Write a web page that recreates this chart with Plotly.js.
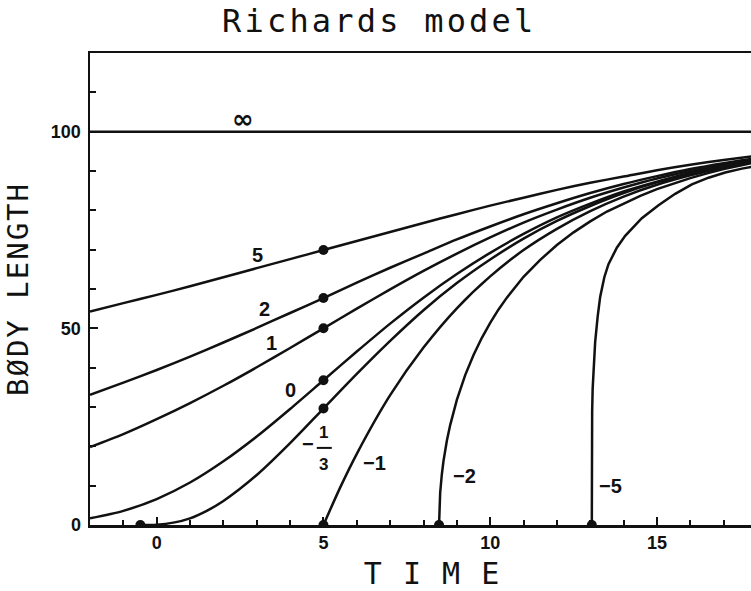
<!DOCTYPE html>
<html>
<head>
<meta charset="utf-8">
<script src="https://cdn.plot.ly/plotly-3.0.1.min.js"></script>
<style>
html,body{margin:0;padding:0;background:#fff;}
#chart{width:751px;height:591px;}
.gtitle{letter-spacing:3.2px;}
.xtitle{letter-spacing:1.5px;}
.ytitle{letter-spacing:2px;}
</style>
</head>
<body>
<div id="chart"></div>
<script>
// Curve labels (Richards shape parameter)
const curveLabels = ["∞", "5", "2", "1", "0", "−1/3", "−1", "−2", "−5"];

// Time grid for the smooth curves
const tFull = [-2,-1,0,1,2,3,4,5,6,7,8,9,10,11,12,13,14,15,16,17,18];

// Body length values
const yInf   = [100,100,100,100,100,100,100,100,100,100,100,100,100,100,100,100,100,100,100,100,100];
const yP5    = [54.3,56.4,58.5,60.7,63.0,65.3,67.6,69.9,72.2,74.5,76.8,79.0,81.2,83.2,85.2,87.0,88.6,90.2,91.6,92.8,93.9];
const yP2    = [33.1,36.2,39.4,42.8,46.4,50.1,53.9,57.7,61.6,65.4,69.0,72.6,75.9,79.0,81.8,84.4,86.7,88.7,90.5,92.0,93.3];
const yP1    = [19.8,23.1,26.9,31.0,35.4,40.1,45.0,50.0,55.0,59.9,64.6,69.0,73.1,76.9,80.2,83.2,85.8,88.1,90.0,91.7,93.1];
const yP0    = [1.7,3.6,6.6,10.8,16.2,22.5,29.5,36.8,44.1,51.2,57.8,63.8,69.2,74.0,78.2,81.7,84.8,87.3,89.5,91.3,92.8];

const tThird = [-0.49,0,0.5,1,1.5,2,3,4,5,6,7,8,9,10,11,12,13,14,15,16,17,18];
const yThird = [0,0.08,0.6,1.7,3.6,6.1,12.7,20.8,29.6,38.4,46.8,54.6,61.5,67.5,72.8,77.3,81.1,84.4,87.1,89.3,91.2,92.8];

const tM1 = [5,5.5,6,7,8,9,10,11,12,13,14,15,16,17,18];
const yM1 = [0,9.5,18.1,33.0,45.1,55.1,63.2,69.9,75.3,79.8,83.5,86.5,88.9,90.9,92.6];

const tM2 = [8.466,8.48,8.5,8.55,8.6,8.7,8.8,9,9.25,9.5,9.75,10,10.25,10.5,10.75,11,11.5,12,12.5,13,13.5,14,14.5,15,15.5,16,16.5,17,17.5,18];
const yM2 = [0,5.3,8.2,12.9,16.3,21.4,25.4,31.8,38.1,43.2,47.6,51.4,54.8,57.8,60.6,63.1,67.4,71.2,74.4,77.2,79.7,81.8,83.7,85.4,86.9,88.2,89.4,90.5,91.4,92.3];

const tM5 = [13.047,13.0471,13.048,13.05,13.057,13.072,13.097,13.147,13.222,13.297,13.422,13.547,13.797,14.047,14.547,15.047,15.547,16.047,16.547,17.047,17.547,18.047];
const yM5 = [0,11.5,18.2,22.7,28.8,34.6,40.0,46.5,53.0,58.0,63.0,66.3,70.5,73.5,78.0,81.3,84.2,86.6,88.3,89.6,90.6,91.4];

// Marked points (inflections / starting points)
const dotT = [5,5,5,5,5,5,8.466,13.047,-0.49];
const dotY = [69.9,57.7,50.0,36.8,29.6,0,0,0,0];

// Label positions
const labT = [2.6,3.03,3.24,3.45,4.0,6.54,9.24,13.62];
const labY = [103.3,68.7,55.0,46.3,34.4,15.7,12.5,9.9];
const labText = ["∞","5","2","1","0","−1","−2","−5"];

const lineStyle = {color:'#111', width:2.5};
function curve(x, y, shape){
  return {x:x, y:y, type:'scatter', mode:'lines', line:Object.assign({shape:shape||'spline', smoothing:0.8}, lineStyle), hoverinfo:'skip', showlegend:false};
}

const data = [
  curve(tFull, yInf, 'linear'),
  curve(tFull, yP5),
  curve(tFull, yP2),
  curve(tFull, yP1),
  curve(tFull, yP0),
  curve(tThird, yThird),
  curve(tM1, yM1),
  curve(tM2, yM2, 'linear'),
  curve(tM5, yM5, 'linear'),
  {x:dotT, y:dotY, type:'scatter', mode:'markers', marker:{color:'#111', size:10}, hoverinfo:'skip', showlegend:false}
];

const labFont = {family:'Liberation Sans, Arial, sans-serif', size:20, color:'#111', weight:'bold'};
const annotations = labText.map((s,i)=>({x:labT[i], y:labY[i], xref:'x', yref:'y', text:s, showarrow:false,
  font: i===0 ? {family:'DejaVu Sans, sans-serif', size:26, color:'#111', weight:'bold'} : labFont}));
// −1/3 stacked fraction label
annotations.push({x:4.55, y:20.5, xref:'x', yref:'y', text:'−', showarrow:false, font:labFont});
annotations.push({x:5.0, y:23.5, xref:'x', yref:'y', text:'1', showarrow:false, font:Object.assign({}, labFont, {size:17})});
annotations.push({x:5.0, y:15.5, xref:'x', yref:'y', text:'3', showarrow:false, font:Object.assign({}, labFont, {size:17})});

const tickFont = {family:'Liberation Sans, Arial, sans-serif', size:18, color:'#111', weight:'bold'};

const layout = {
  width:751, height:591,
  margin:{l:90, r:0, t:53, b:66},
  paper_bgcolor:'#fff', plot_bgcolor:'#fff',
  title:{text:'Richards model', x:0.505, xanchor:'center', y:0.964, yanchor:'middle',
         font:{family:'DejaVu Sans Mono, monospace', size:32, color:'#111'}},
  xaxis:{range:[-2,17.82], showgrid:false, zeroline:false, showline:true, mirror:true, linecolor:'#111', linewidth:2.5,
         ticks:'inside', ticklen:8, tickwidth:2, tickcolor:'#111', tickmode:'array', tickvals:[0,5,10,15], ticktext:['0','5','10','15'],
         minor:{dtick:1, ticks:'inside', ticklen:5, tickwidth:2, tickcolor:'#111'},
         tickfont:tickFont,
         title:{text:'\u2800T I M E', standoff:12, font:{family:'DejaVu Sans Mono, monospace', size:30, color:'#111'}}},
  yaxis:{range:[0,120], showgrid:false, zeroline:false, showline:true, linecolor:'#111', linewidth:2.5,
         ticks:'inside', ticklen:8, tickwidth:2, tickcolor:'#111', tickmode:'array', tickvals:[0,50,100], ticktext:['0','50','100'],
         minor:{dtick:10, ticks:'inside', ticklen:6, tickwidth:2, tickcolor:'#111'},
         tickfont:tickFont, ticklabelstandoff:3,
         title:{text:'BØDY LENGTH', standoff:14, font:{family:'DejaVu Sans Mono, monospace', size:29, color:'#111'}}},
  shapes:[{type:'line', xref:'x', yref:'y', x0:4.8, x1:5.25, y0:19.6, y1:19.6, line:{color:'#111', width:2}}],
  annotations:annotations
};

Plotly.newPlot('chart', data, layout, {displayModeBar:false, staticPlot:true});
</script>
</body>
</html>
